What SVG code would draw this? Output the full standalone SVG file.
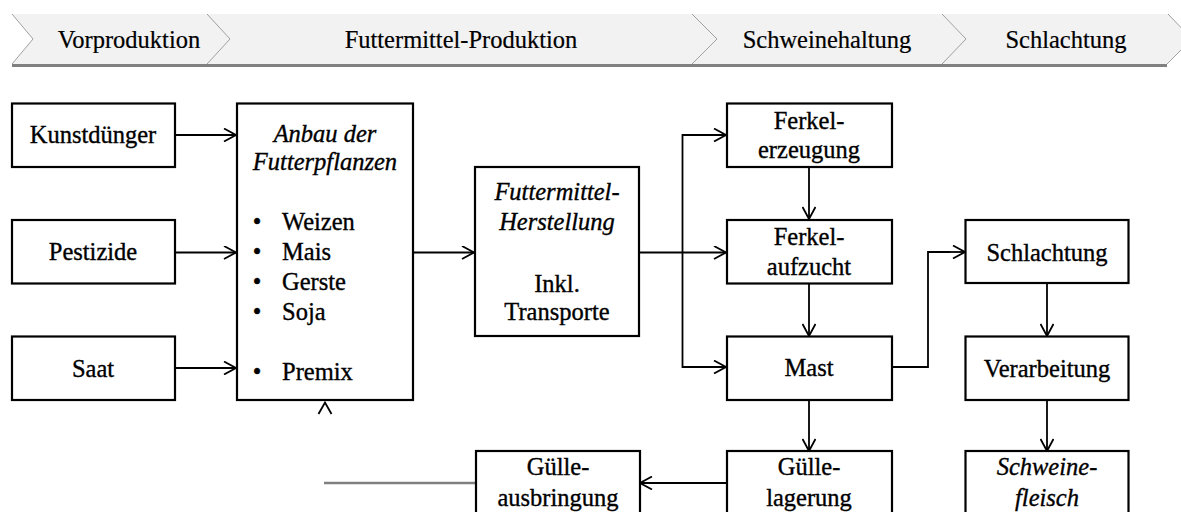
<svg xmlns="http://www.w3.org/2000/svg" width="1181" height="512" viewBox="0 0 1181 512">
<style>
.box{fill:#fff;stroke:#000;stroke-width:2.2}
.t{font-family:'Liberation Serif','Times New Roman',serif;font-size:24.5px;fill:#000;text-anchor:middle;stroke:#000;stroke-width:0.35}
.h{stroke-width:0.2}
.i{font-style:italic}
.l{text-anchor:start}
.c{fill:none;stroke:#000;stroke-width:1.8}
.sep{fill:none;stroke:#a0a0a0;stroke-width:1}
</style>
<defs>
<marker id="ah" viewBox="0 0 14 14" refX="13" refY="7" markerWidth="14" markerHeight="14" orient="auto" markerUnits="userSpaceOnUse">
<path d="M1,0.5 L13,7 L1,13.5" fill="none" stroke="#000" stroke-width="1.8"/>
</marker>
</defs>
<rect width="1181" height="512" fill="#fff"/>
<g id="header">
<polygon points="12,14 1168,14 1192,39 1167,64 12,64 33,39" fill="#f2f2f2"/>
<line x1="12" y1="65.5" x2="1167" y2="65.5" stroke="#808080" stroke-width="3"/>
<polyline class="sep" points="12,14 33,39 12,64"/>
<polyline class="sep" points="207,14 230,39 207,64"/>
<polyline class="sep" points="692,14 717,39 692,64"/>
<polyline class="sep" points="942,14 966,39 942,64"/>
<polyline class="sep" points="1168,14 1192,39 1167,64"/>
<text class="t h" x="129" y="48">Vorproduktion</text>
<text class="t h" x="461" y="48">Futtermittel-Produktion</text>
<text class="t h" x="827" y="48">Schweinehaltung</text>
<text class="t h" x="1066" y="48">Schlachtung</text>
</g>
<g id="connectors">
<line class="c" x1="175" y1="135" x2="236" y2="135" marker-end="url(#ah)"/>
<line class="c" x1="175" y1="252.5" x2="236" y2="252.5" marker-end="url(#ah)"/>
<line class="c" x1="175" y1="368" x2="236" y2="368" marker-end="url(#ah)"/>
<line class="c" x1="413" y1="252.5" x2="474" y2="252.5" marker-end="url(#ah)"/>
<line class="c" x1="639" y1="252.5" x2="726" y2="252.5" marker-end="url(#ah)" stroke="#333"/>
<polyline class="c" points="726,135 682.5,135 682.5,367 726,367"/>
<line class="c" x1="700" y1="135" x2="726" y2="135" marker-end="url(#ah)"/>
<line class="c" x1="700" y1="367" x2="726" y2="367" marker-end="url(#ah)"/>
<line class="c" x1="809" y1="167" x2="809" y2="219" marker-end="url(#ah)"/>
<line class="c" x1="809" y1="283" x2="809" y2="336" marker-end="url(#ah)"/>
<line class="c" x1="809" y1="400" x2="809" y2="451" marker-end="url(#ah)"/>
<polyline class="c" points="892,367 928,367 928,252 950,252" stroke="#555"/>
<line class="c" x1="940" y1="252" x2="965" y2="252" marker-end="url(#ah)"/>
<line class="c" x1="1047" y1="283" x2="1047" y2="336" marker-end="url(#ah)"/>
<line class="c" x1="1047" y1="400" x2="1047" y2="451" marker-end="url(#ah)"/>
<line class="c" x1="727" y1="483" x2="640" y2="483" marker-end="url(#ah)"/>
<line x1="324" y1="483" x2="476" y2="483" stroke="#808080" stroke-width="2.5"/>
<polyline class="c" points="318.5,414 325,402.5 331.5,414"/>
</g>
<g id="kunstduenger"><rect class="box" x="12" y="103.5" width="163" height="63.5"/><text class="t" x="93" y="143">Kunstdünger</text></g>
<g id="pestizide"><rect class="box" x="12" y="220" width="163" height="63.5"/><text class="t" x="93" y="260">Pestizide</text></g>
<g id="saat"><rect class="box" x="12" y="336.5" width="163" height="63.5"/><text class="t" x="93" y="376.5">Saat</text></g>
<g id="anbau"><rect class="box" x="237" y="103.5" width="176" height="296.5"/>
<text class="t i" x="325" y="141.5">Anbau der</text>
<text class="t i" x="325" y="170">Futterpflanzen</text>
<text class="t" x="257" y="230">•</text><text class="t l" x="282" y="230">Weizen</text>
<text class="t" x="257" y="260">•</text><text class="t l" x="282" y="260">Mais</text>
<text class="t" x="257" y="290">•</text><text class="t l" x="282" y="290">Gerste</text>
<text class="t" x="257" y="320">•</text><text class="t l" x="282" y="320">Soja</text>
<text class="t" x="257" y="380">•</text><text class="t l" x="282" y="380">Premix</text>
</g>
<g id="futtermittel"><rect class="box" x="475" y="167" width="164" height="169"/>
<text class="t i" x="557" y="200">Futtermittel-</text>
<text class="t i" x="557" y="230">Herstellung</text>
<text class="t" x="557" y="291.5">Inkl.</text>
<text class="t" x="557" y="320">Transporte</text>
</g>
<g id="ferkelerzeugung"><rect class="box" x="727" y="103.5" width="165" height="63.5"/>
<text class="t" x="809" y="128.5">Ferkel-</text><text class="t" x="809" y="158">erzeugung</text></g>
<g id="ferkelaufzucht"><rect class="box" x="727" y="220" width="165" height="63.5"/>
<text class="t" x="809" y="245">Ferkel-</text><text class="t" x="809" y="275">aufzucht</text></g>
<g id="mast"><rect class="box" x="727" y="336.5" width="165" height="63.5"/>
<text class="t" x="809" y="376">Mast</text></g>
<g id="schlachtung"><rect class="box" x="965.5" y="220" width="163" height="63"/>
<text class="t" x="1047" y="261">Schlachtung</text></g>
<g id="verarbeitung"><rect class="box" x="965.5" y="336.5" width="163" height="63.5"/>
<text class="t" x="1047" y="376.5">Verarbeitung</text></g>
<g id="schweinefleisch"><rect class="box" x="965.5" y="451" width="163" height="64"/>
<text class="t i" x="1047" y="475">Schweine-</text><text class="t i" x="1047" y="506">fleisch</text></g>
<g id="guellelagerung"><rect class="box" x="727" y="451" width="165" height="64"/>
<text class="t" x="809" y="475">Gülle-</text><text class="t" x="809" y="506">lagerung</text></g>
<g id="guelleausbringung"><rect class="box" x="476" y="451" width="164" height="64"/>
<text class="t" x="558" y="475">Gülle-</text><text class="t" x="558" y="506">ausbringung</text></g>
</svg>
